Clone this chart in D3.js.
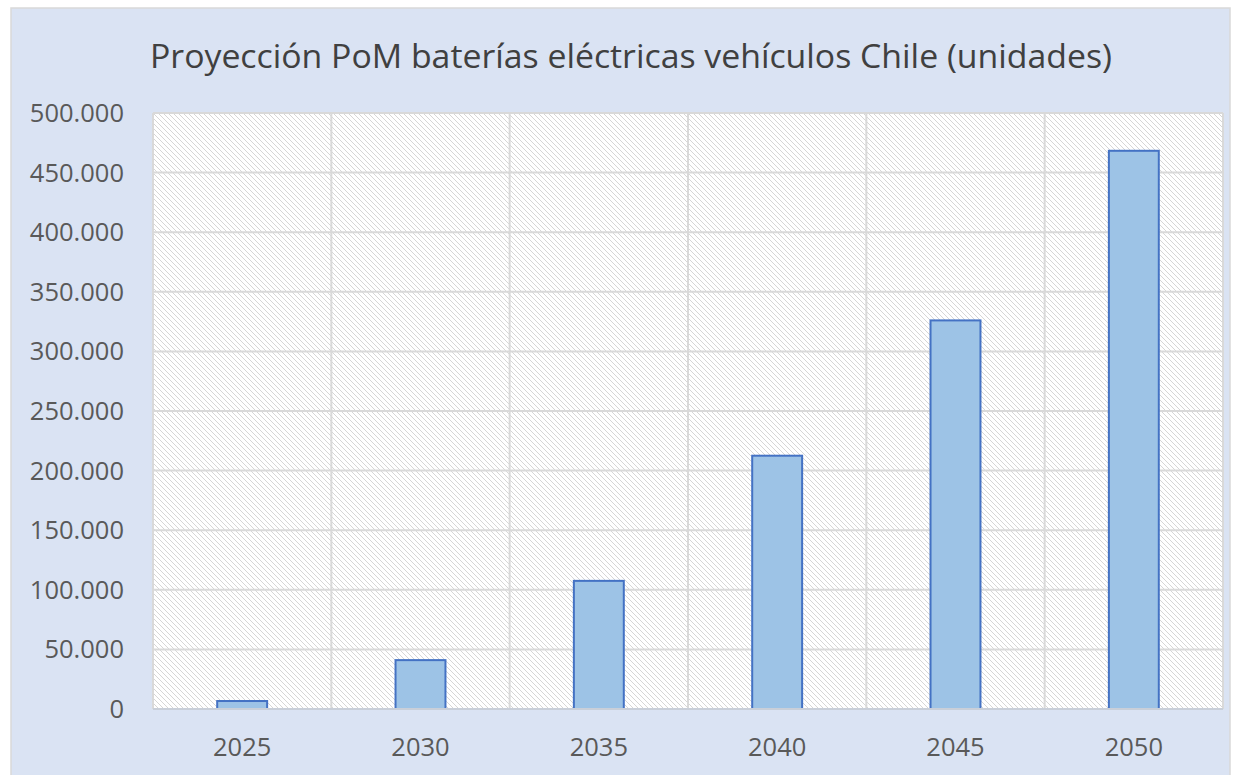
<!DOCTYPE html>
<html>
<head>
<meta charset="utf-8">
<script src="https://cdn.jsdelivr.net/npm/d3@7.9.0/dist/d3.min.js"></script>
<style>
  html, body { margin: 0; padding: 0; background: #ffffff; }
  svg { display: block; }
  text { font-family: "Open Sans", "Noto Sans", sans-serif; fill: #595959; }
</style>
</head>
<body>
<svg id="chart" width="1237" height="775"></svg>
<script>
const title = 'Proyección PoM baterías eléctricas vehículos Chile (unidades)';
const years = ['2025', '2030', '2035', '2040', '2045', '2050'];
const units = [6700, 41000, 107500, 212500, 326000, 468300];
const yTicks = [0, 50000, 100000, 150000, 200000, 250000, 300000, 350000, 400000, 450000, 500000];

const svg = d3.select('#chart');
const margin = { top: 113, right: 14, bottom: 66, left: 153 };
const width = 1237 - margin.left - margin.right;
const height = 775 - margin.top - margin.bottom;

// chart background
svg.append('rect')
    .attr('x', 11).attr('y', 8)
    .attr('width', 1219).attr('height', 775)
    .attr('fill', '#dae3f3')
    .attr('stroke', '#d9d9d9')
    .attr('stroke-width', 1.5);

// hatch pattern for plot area (light downward diagonal)
const defs = svg.append('defs');
const pat = defs.append('pattern')
    .attr('id', 'hatch')
    .attr('patternUnits', 'userSpaceOnUse')
    .attr('width', 5).attr('height', 5);
pat.append('rect').attr('width', 5).attr('height', 5).attr('fill', '#ffffff');
d3.range(5).forEach(i => {
    pat.append('rect')
        .attr('x', i).attr('y', i)
        .attr('width', 1).attr('height', 1)
        .attr('fill', '#d6d6d6');
});

const g = svg.append('g').attr('transform', `translate(${margin.left},${margin.top})`);

const x = d3.scaleBand().domain(years).range([0, width]).paddingInner(0).paddingOuter(0);
const y = d3.scaleLinear().domain([0, 500000]).range([height, 0]);

g.append('rect')
    .attr('width', width).attr('height', height)
    .attr('fill', 'url(#hatch)');

// horizontal grid
g.selectAll('.hgrid')
    .data(yTicks)
    .join('line')
    .attr('class', 'hgrid')
    .attr('x1', 0).attr('x2', width)
    .attr('y1', d => y(d)).attr('y2', d => y(d))
    .attr('stroke', '#d9d9d9')
    .attr('stroke-width', 2);

// vertical grid at category boundaries
const bounds = years.map(d => x(d)).concat([width]);
g.selectAll('.vgrid')
    .data(bounds)
    .join('line')
    .attr('class', 'vgrid')
    .attr('x1', d => d).attr('x2', d => d)
    .attr('y1', 0).attr('y2', height)
    .attr('stroke', '#d9d9d9')
    .attr('stroke-width', 2);

// bars
const barW = x.bandwidth() * 0.28;
g.selectAll('.bar')
    .data(units)
    .join('rect')
    .attr('class', 'bar')
    .attr('x', (d, i) => x(years[i]) + x.bandwidth() / 2 - barW / 2)
    .attr('y', d => y(d))
    .attr('width', barW)
    .attr('height', d => height - y(d))
    .attr('fill', '#9dc3e6')
    .attr('stroke', '#4472c4')
    .attr('stroke-width', 2);

// x axis line
g.append('line')
    .attr('x1', 0).attr('x2', width)
    .attr('y1', height).attr('y2', height)
    .attr('stroke', '#c9cfd9')
    .attr('stroke-width', 2);

// y tick labels
const fmt = d => d3.format(',')(d).replace(/,/g, '.');
g.selectAll('.ylab')
    .data(yTicks)
    .join('text')
    .attr('class', 'ylab')
    .attr('x', -29)
    .attr('y', d => y(d))
    .attr('dy', '0.35em')
    .attr('text-anchor', 'end')
    .style('font-size', '25.5px')
    .text(fmt);

// x tick labels
g.selectAll('.xlab')
    .data(years)
    .join('text')
    .attr('class', 'xlab')
    .attr('x', d => x(d) + x.bandwidth() / 2)
    .attr('y', height + 47)
    .attr('text-anchor', 'middle')
    .style('font-size', '25.5px')
    .text(d => d);

// title
svg.append('text')
    .attr('x', 631)
    .attr('y', 68)
    .attr('text-anchor', 'middle')
    .style('font-size', '33px')
    .style('fill', '#404040')
    .attr('textLength', 962)
    .attr('lengthAdjust', 'spacingAndGlyphs')
    .text(title);
</script>
</body>
</html>
